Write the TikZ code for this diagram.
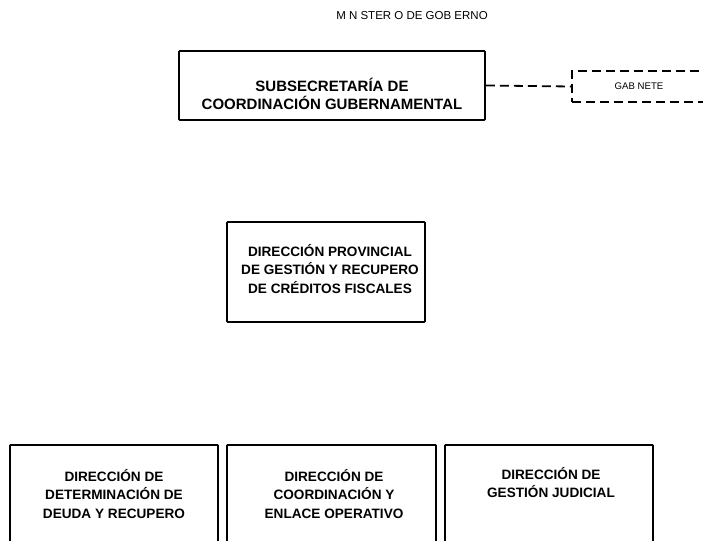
\documentclass[tikz,border=0pt]{standalone}
\usepackage{fontspec}
\setmainfont{Liberation Sans}
\begin{document}
\begin{tikzpicture}[x=1pt,y=-1pt,
  box/.style={draw=black, line width=1.8pt, rounded corners=0.8pt, inner sep=0pt},
  boxtext/.style={font=\bfseries\fontsize{13.6}{18.5}\selectfont, align=center, inner sep=0pt, anchor=north},
  dashline/.style={draw=black, line width=1.8pt, dash pattern=on 9pt off 5pt}
]
\useasboundingbox (0,0) rectangle (703,540);
\clip (0,0) rectangle (703,540);
% title
\node[font=\fontsize{11.5}{13}\selectfont, inner sep=0pt] (title) at (412,16) {M N STER O DE GOB ERNO};
% top box
\node[box, minimum width=306pt, minimum height=69pt] (sub) at (332,85.5) {};
\node[boxtext, font=\bfseries\fontsize{15}{18}\selectfont, anchor=center] (subt) at (332,94) {SUBSECRETARÍA DE\\COORDINACIÓN GUBERNAMENTAL};
% gabinete
\node[dashline, draw, minimum width=160pt, minimum height=31pt, inner sep=0pt] (gab) at (652,86.5) {};
\node[font=\fontsize{9.6}{11}\selectfont, inner sep=0pt] (gabt) at (639,86) {GAB NETE};
\draw[dashline] (sub.east) -- (gab.west);
% middle box
\node[box, minimum width=198pt, minimum height=100pt] (dp) at (326,272) {};
\node[boxtext] (dpt) at (330,244) {DIRECCIÓN PROVINCIAL\\DE GESTIÓN Y RECUPERO\\DE CRÉDITOS FISCALES};
% bottom boxes
\node[box, minimum width=208pt, minimum height=140pt, anchor=north] (ba) at (114,444) {};
\node[box, minimum width=209pt, minimum height=140pt, anchor=north] (bb) at (331.5,444) {};
\node[box, minimum width=208pt, minimum height=140pt, anchor=north] (bc) at (549,444) {};
\node[boxtext] (bat) at (114,469) {DIRECCIÓN DE\\DETERMINACIÓN DE\\DEUDA Y RECUPERO};
\node[boxtext] (bbt) at (334,469) {DIRECCIÓN DE\\COORDINACIÓN Y\\ENLACE OPERATIVO};
\node[boxtext] (bct) at (551,467) {DIRECCIÓN DE\\GESTIÓN JUDICIAL};
\end{tikzpicture}
\end{document}
